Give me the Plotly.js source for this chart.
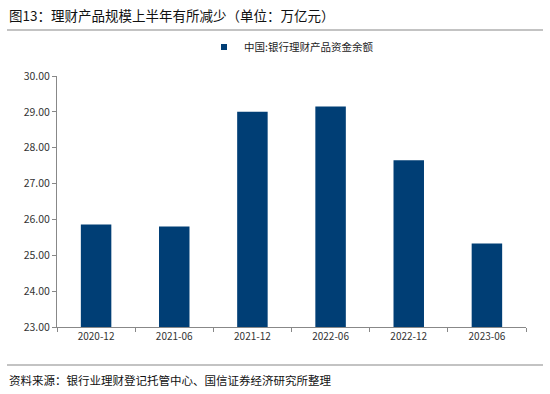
<!DOCTYPE html>
<html><head><meta charset="utf-8">
<script src="https://cdn.plot.ly/plotly-3.0.1.min.js"></script>
<style>html,body{margin:0;padding:0;background:#fff;}#chart{width:550px;height:394px;}</style>
</head><body><div id="chart"></div>
<script>
const categories = ["2020-12","2021-06","2021-12","2022-06","2022-12","2023-06"];
const values = [25.86, 25.80, 29.00, 29.15, 27.65, 25.33];
const seriesName = "中国:银行理财产品资金余额";
const yTicks = [23,24,25,26,27,28,29,30];
const yTickLabels = ["23.00","24.00","25.00","26.00","27.00","28.00","29.00","30.00"];
const titleText = "图13：理财产品规模上半年有所减少（单位：万亿元）";
const sourceText = "资料来源：银行业理财登记托管中心、国信证券经济研究所整理";

const font = "'Noto Sans CJK SC', 'Liberation Sans', sans-serif";
const barColor = "#003e75";

const trace = {
  type: "bar", x: categories, y: values, name: seriesName,
  marker: {color: barColor}, showlegend: false
};
const legendTrace = {
  type: "scatter", mode: "markers", x: [null], y: [null], name: seriesName,
  marker: {symbol: "square", size: 6, color: barColor}, showlegend: true, hoverinfo: "skip"
};
const plotH = 394 - 76 - 67;
const layout = {
  width: 550, height: 394,
  margin: {l: 57, r: 24, t: 76, b: 67},
  paper_bgcolor: "#fff", plot_bgcolor: "#fff",
  bargap: 0.61,
  font: {family: font, size: 10, color: "#333"},
  showlegend: true,
  legend: {orientation: "h", x: 0.5, xanchor: "center", y: (327 - 47) / plotH, yanchor: "middle",
           font: {size: 10.5, color: "#222"}, itemwidth: 10, itemsizing: "trace"},
  xaxis: {type: "category", showline: true, linecolor: "#888", linewidth: 1,
          ticks: "outside", ticklen: 4, tickcolor: "#888", tickson: "boundaries",
          showgrid: false, tickfont: {size: 10, color: "#333"}, fixedrange: true},
  yaxis: {range: [23, 30], tickvals: yTicks, ticktext: yTickLabels, showline: true,
          linecolor: "#888", linewidth: 1, ticks: "outside", ticklen: 4, tickcolor: "#888",
          showgrid: false, zeroline: false, tickfont: {size: 10.5, color: "#333"}, fixedrange: true},
  annotations: [
    {text: titleText, xref: "paper", yref: "paper", x: (7 - 57) / 469, y: (327 - 15) / plotH,
     xanchor: "left", yanchor: "middle", showarrow: false,
     font: {size: 13.5, color: "#111", family: font}},
    {text: sourceText, xref: "paper", yref: "paper", x: (7 - 57) / 469, y: (327 - 380) / plotH,
     xanchor: "left", yanchor: "middle", showarrow: false,
     font: {size: 11.5, color: "#111", family: font}}
  ],
  shapes: [
    {type: "line", xref: "paper", yref: "paper", x0: (7 - 57) / 469, x1: (543 - 57) / 469,
     y0: (327 - 30) / plotH, y1: (327 - 30) / plotH, line: {color: "#888", width: 1.2}},
    {type: "line", xref: "paper", yref: "paper", x0: (7 - 57) / 469, x1: (543 - 57) / 469,
     y0: (327 - 365) / plotH, y1: (327 - 365) / plotH, line: {color: "#888", width: 1.2}}
  ]
};
Plotly.newPlot("chart", [trace, legendTrace], layout, {displayModeBar: false, staticPlot: true});
</script></body></html>
